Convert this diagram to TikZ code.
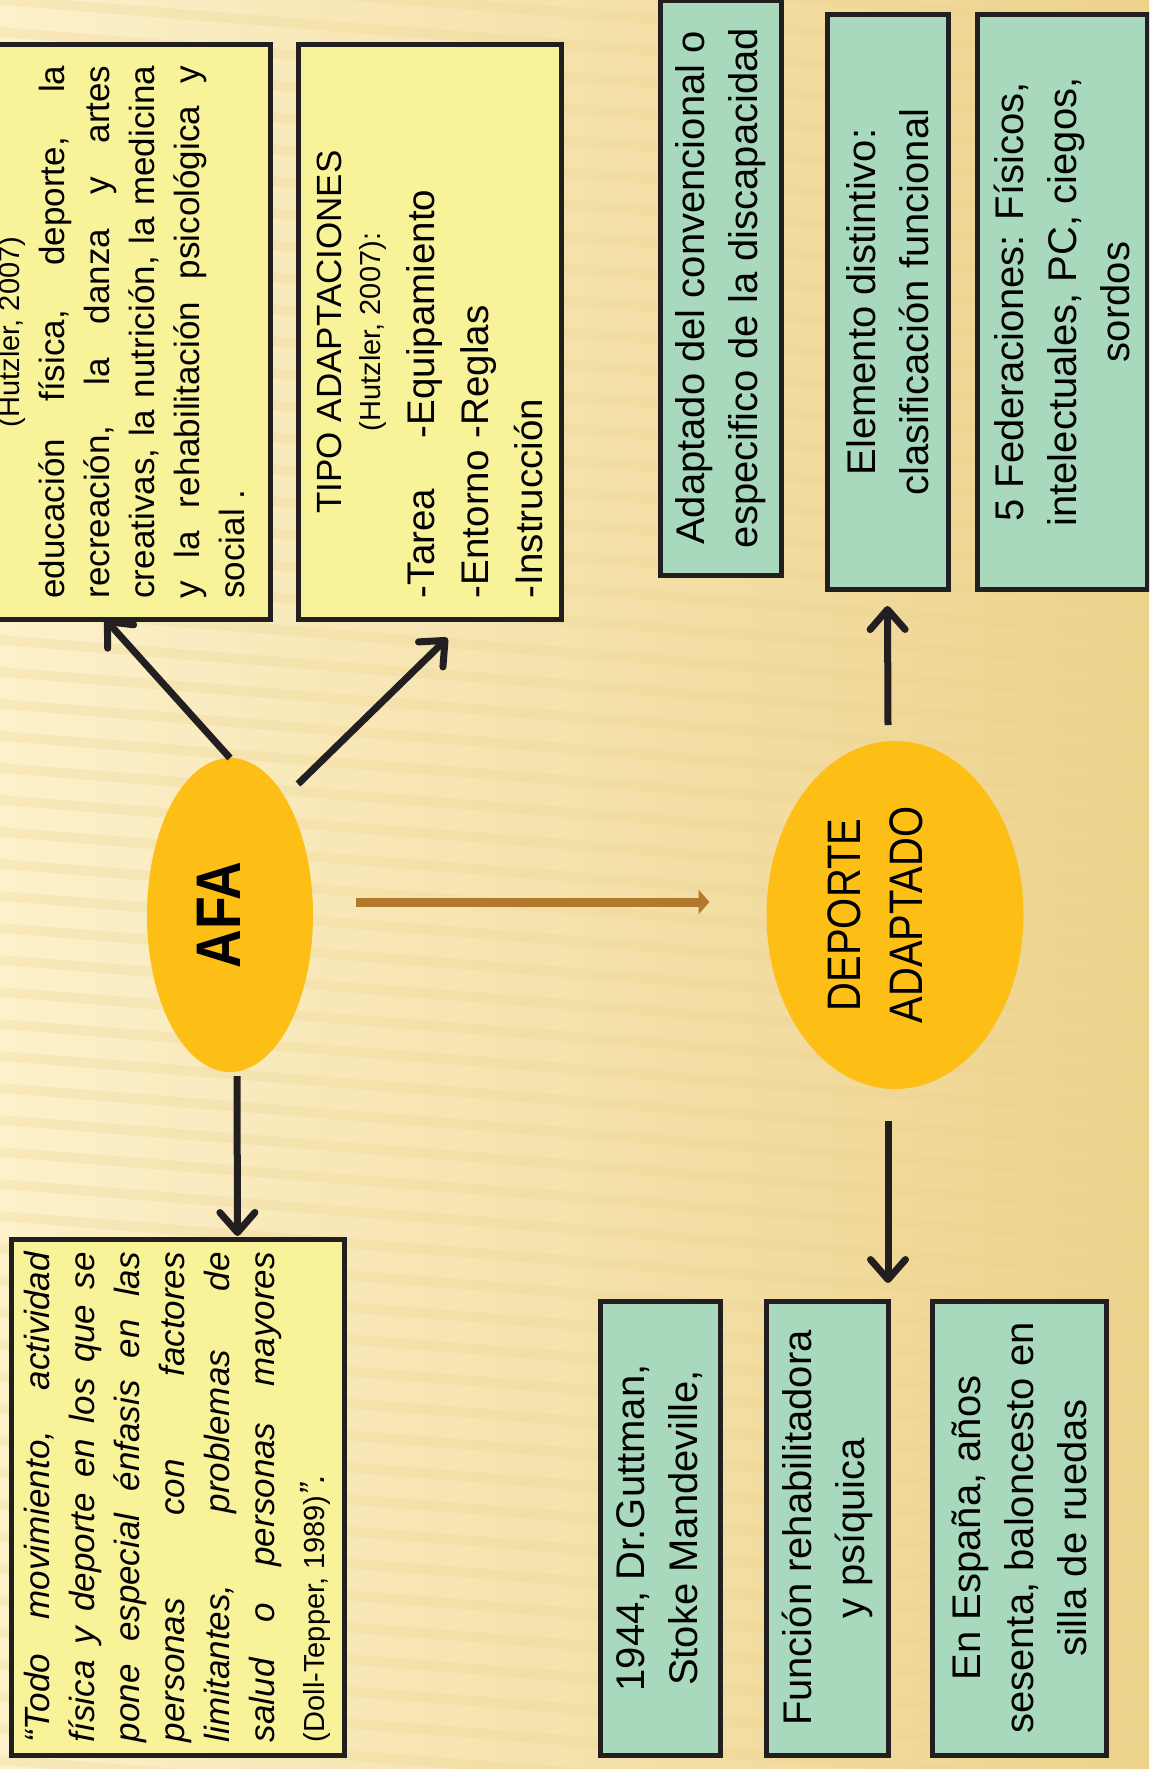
\documentclass[tikz,border=0pt]{standalone}
\usepackage{fontspec}
\setmainfont{Liberation Sans}
\newfontfamily\elipsefont{Liberation Sans}[FakeStretch=0.85]
\usetikzlibrary{arrows.meta,shapes.geometric,calc}

\definecolor{fondoclaro}{HTML}{FCF1CA}
\definecolor{fondooscuro}{HTML}{EDD28C}
\definecolor{amarillo}{HTML}{F8F398}
\definecolor{verdeagua}{HTML}{A8D9BD}
\definecolor{borde}{HTML}{231F20}
\definecolor{naranja}{HTML}{FDBF16}
\definecolor{marron}{HTML}{B0792B}

\newcommand{\girado}[2]{\rotatebox{90}{\parbox{#1}{#2}}}
\newcommand{\justo}[1]{\makebox[\linewidth][s]{#1}}

\begin{document}
\begin{tikzpicture}[x=1pt,y=-1pt]
	\tikzstyle{caja}=[draw=borde,line width=5pt,inner sep=0pt,outer sep=0pt];
	\tikzstyle{amarilla}=[caja,fill=amarillo];
	\tikzstyle{verde}=[caja,fill=verdeagua,font=\fontsize{40}{53}\selectfont];
	\tikzstyle{elipse}=[ellipse,fill=naranja,inner sep=0pt,outer sep=0pt];
	\tikzstyle{flecha}=[draw=borde,line width=7pt,-{Straight Barb[length=20pt,width=35pt,round]}];
	\tikzstyle{flechamarron}=[draw=marron,line width=9pt,-{Triangle[length=11pt,width=24pt]}];
	\tikzstyle{raya}=[draw=fondooscuro,line width=10pt,opacity=0.25];

	\useasboundingbox (0,0) rectangle (1149,1769);
	\clip (0,0) rectangle (1149,1769);
	\shade[left color=fondoclaro,right color=fondooscuro] (0,0) rectangle (1149,1769);
	\foreach \k in {-10,...,60}
		\draw[raya] (0,\k*32) -- (1149,\k*32+90);

	% cajas amarillas
	\node[amarilla,anchor=east,minimum height=574pt,inner xsep=25pt,font=\fontsize{35}{45}\selectfont] (def) at (270,332)
		{\girado{533pt}{{\centering\fontsize{29}{45}\selectfont (Hutzler, 2007)\par}
		\justo{educación física, deporte, la}\\
		\justo{recreación, la danza y artes}\\
		\justo{creativas, la nutrición, la medicina}\\
		\justo{y la rehabilitación psicológica y}\\
		social .}};
	\node[amarilla,minimum width=263pt,minimum height=574pt] (tipos) at (429.5,332)
		{\girado{532pt}{{\centering\fontsize{35}{40}\selectfont TIPO ADAPTACIONES\par}
		{\centering\fontsize{29}{39}\selectfont (Hutzler, 2007):\par}
		{\fontsize{38.5}{54}\selectfont\makebox[160pt][l]{-Tarea}-Equipamiento\\
		\makebox[160pt][l]{-Entorno}-Reglas\\
		-Instrucción\par}}};
	\node[amarilla,minimum width=333pt,minimum height=516pt,font=\fontsize{35}{45}\selectfont] (cita) at (177.5,1497)
		{\girado{490pt}{\itshape
		\justo{“Todo movimiento, actividad}\\
		\justo{física y deporte en los que se}\\
		\justo{pone especial énfasis en las}\\
		\justo{personas con factores}\\
		\justo{limitantes, problemas de}\\
		\justo{salud o personas mayores}\par
		{\fontsize{35}{50}\selectfont{\upshape\fontsize{29}{50}\selectfont (Doll-Tepper, 1989)}”.\par}}};

	% elipses
	\node[elipse,minimum width=166pt,minimum height=314pt] (afa) at (230,915)
		{\rotatebox{90}{\elipsefont\bfseries\fontsize{63}{63}\selectfont AFA\rule[-22pt]{0pt}{1pt}}};
	\node[elipse,minimum width=257pt,minimum height=348pt] (dep) at (895,915)
		{\rotatebox{90}{\parbox{225pt}{\centering\elipsefont\fontsize{47}{62}\selectfont DEPORTE\\ADAPTADO\rule[-40pt]{0pt}{1pt}}}};

	% cajas verdes
	\node[verde,minimum width=121pt,minimum height=574pt] (conv) at (720.5,288)
		{\girado{560pt}{\centering Adaptado del convencional o\\especifico de la discapacidad}};
	\node[verde,minimum width=121pt,minimum height=574pt] (clasif) at (887.5,302)
		{\girado{560pt}{\centering Elemento distintivo:\\clasificación funcional}};
	\node[verde,minimum width=170pt,minimum height=574pt] (feder) at (1062,302)
		{\girado{560pt}{\centering 5 Federaciones: Físicos,\\intelectuales, PC, ciegos,\\sordos}};
	\node[verde,minimum width=120pt,minimum height=454pt] (guttman) at (660,1528)
		{\girado{440pt}{\centering 1944, Dr.Guttman,\\Stoke Mandeville,}};
	\node[verde,minimum width=122pt,minimum height=454pt] (funcion) at (827,1528)
		{\girado{440pt}{\centering Función rehabilitadora\\y psíquica}};
	\node[verde,minimum width=174pt,minimum height=454pt] (espana) at (1019,1528)
		{\girado{440pt}{\centering En España, años\\sesenta, baloncesto en\\silla de ruedas}};

	% flechas
	\draw[flecha] (afa.north) -- ($(def.south east)+(-165,0)$);
	\draw[flecha] ($(afa.center)+(68,-131)$) -- ($(tipos.south)+(18,19)$);
	\draw[flecha] ($(afa.south)+(7,4)$) -- ($(cita.north)+(60,-3)$);
	\draw[flechamarron] ($(afa.east)+(43,-13)$) -- ($(dep.west)+(-57,-13)$);
	\draw[flecha] ($(dep.north)+(-7,-16)$) -- ($(clasif.south)+(0,17)$);
	\draw[flecha] ($(dep.south)+(-7,32)$) -- ($(funcion.north east)+(0,-18)$);
\end{tikzpicture}
\end{document}
